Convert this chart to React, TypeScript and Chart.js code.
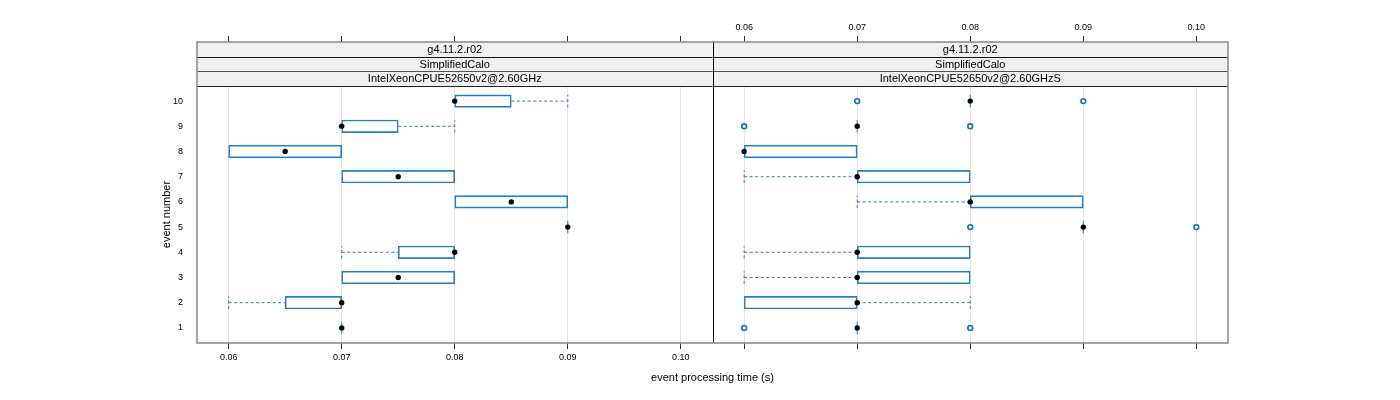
import React, { useEffect, useRef } from 'react';
import { Chart, registerables } from 'chart.js';

Chart.register(...registerables);

const FONT = '"Liberation Sans", Arial, sans-serif';

// ---- data ----
const events = [1, 2, 3, 4, 5, 6, 7, 8, 9, 10];
const xTickValues = [0.06, 0.07, 0.08, 0.09, 0.1];
const yTickValues = [1, 2, 3, 4, 5, 6, 7, 8, 9, 10];
const stripRows = ['g4.11.2.r02', 'SimplifiedCalo'];
const panelHosts = ['IntelXeonCPUE52650v2@2.60GHz', 'IntelXeonCPUE52650v2@2.60GHzS'];
const xLabel = 'event processing time (s)';
const yLabel = 'event number';

// left panel (IntelXeonCPUE52650v2@2.60GHz)
const leftLow = [0.07, 0.06, 0.07, 0.07, 0.09, 0.08, 0.07, 0.06, 0.07, 0.08];
const leftQ1 = [0.07, 0.065, 0.07, 0.075, 0.09, 0.08, 0.07, 0.06, 0.07, 0.08];
const leftMedian = [0.07, 0.07, 0.075, 0.08, 0.09, 0.085, 0.075, 0.065, 0.07, 0.08];
const leftQ3 = [0.07, 0.07, 0.08, 0.08, 0.09, 0.09, 0.08, 0.07, 0.075, 0.085];
const leftHigh = [0.07, 0.07, 0.08, 0.08, 0.09, 0.09, 0.08, 0.07, 0.08, 0.09];
const leftOutlierEvent: number[] = [];
const leftOutlierValue: number[] = [];

// right panel (IntelXeonCPUE52650v2@2.60GHzS)
const rightLow = [0.07, 0.06, 0.06, 0.06, 0.09, 0.07, 0.06, 0.06, 0.07, 0.08];
const rightQ1 = [0.07, 0.06, 0.07, 0.07, 0.09, 0.08, 0.07, 0.06, 0.07, 0.08];
const rightMedian = [0.07, 0.07, 0.07, 0.07, 0.09, 0.08, 0.07, 0.06, 0.07, 0.08];
const rightQ3 = [0.07, 0.07, 0.08, 0.08, 0.09, 0.09, 0.08, 0.07, 0.07, 0.08];
const rightHigh = [0.07, 0.08, 0.08, 0.08, 0.09, 0.09, 0.08, 0.07, 0.07, 0.08];
const rightOutlierEvent = [1, 1, 5, 5, 9, 9, 10, 10];
const rightOutlierValue = [0.06, 0.08, 0.08, 0.1, 0.06, 0.08, 0.07, 0.09];

const X_MIN = 0.0572;
const X_MAX = 0.1028;
const Y_MIN = 0.4;
const Y_MAX = 10.6;
const CAP_HALF = 0.25;

const BLUE = '#2281c2';
const OUT_BLUE = '#1075bb';

function panelDatasets(
  xAxisID: string,
  low: number[],
  q1: number[],
  med: number[],
  q3: number[],
  high: number[],
  outE: number[],
  outV: number[]
): any[] {
  const boxes: any[] = [];
  const whiskers: any[] = [];
  const flat: any[] = [];
  const gap = { x: null, y: null };
  events.forEach((e, i) => {
    if (q3[i] > q1[i]) boxes.push({ y: e, x: [q1[i], q3[i]] });
    else flat.push({ x: med[i], y: e });
    if (low[i] < q1[i]) {
      whiskers.push({ x: low[i], y: e }, { x: q1[i], y: e }, gap);
      whiskers.push({ x: low[i], y: e - CAP_HALF }, { x: low[i], y: e + CAP_HALF }, gap);
    }
    if (high[i] > q3[i]) {
      whiskers.push({ x: q3[i], y: e }, { x: high[i], y: e }, gap);
      whiskers.push({ x: high[i], y: e - CAP_HALF }, { x: high[i], y: e + CAP_HALF }, gap);
    }
  });
  const medians = events.map((e, i) => ({ x: med[i], y: e }));
  const outliers = outE.map((e, i) => ({ x: outV[i], y: e }));
  return [
    {
      type: 'scatter',
      data: medians,
      xAxisID,
      yAxisID: 'y',
      order: 0,
      pointStyle: 'circle',
      pointRadius: 2.7,
      pointBackgroundColor: '#000',
      pointBorderWidth: 0,
    },
    {
      type: 'scatter',
      data: outliers,
      xAxisID,
      yAxisID: 'y',
      order: 1,
      pointStyle: 'circle',
      pointRadius: 2.4,
      pointBackgroundColor: '#ffffff',
      pointBorderColor: OUT_BLUE,
      pointBorderWidth: 1.6,
    },
    {
      type: 'scatter',
      data: flat,
      xAxisID,
      yAxisID: 'y',
      order: 2,
      pointStyle: 'line',
      pointRotation: 90,
      pointRadius: 6.3,
      pointBorderColor: BLUE,
      pointBorderWidth: 1,
    },
    {
      type: 'line',
      data: whiskers,
      xAxisID,
      yAxisID: 'y',
      order: 3,
      borderColor: BLUE,
      borderWidth: 1,
      borderDash: [3, 2.5],
      pointRadius: 0,
      fill: false,
      spanGaps: false,
      tension: 0,
    },
    {
      type: 'bar',
      data: boxes,
      xAxisID,
      yAxisID: 'y',
      order: 4,
      indexAxis: 'y',
      grouped: false,
      barThickness: 12.6,
      backgroundColor: 'rgba(255,255,255,0)',
      borderColor: BLUE,
      borderWidth: 1,
      borderSkipped: false,
    },
  ];
}

function xScale(position: string, weight: number, showLabels: boolean, drawGrid: boolean) {
  return {
    type: 'linear',
    axis: 'x',
    position,
    weight,
    offset: false,
    stack: position === 'top' ? 'tp' : 'bt',
    stackWeight: 1,
    min: X_MIN,
    max: X_MAX,
    afterBuildTicks: (s: any) => {
      s.ticks = xTickValues.map((v) => ({ value: v }));
    },
    afterFit: (s: any) => {
      s.height = position === 'top' ? 42 : 25;
    },
    ticks: {
      display: showLabels,
      padding: 3,
      autoSkip: false,
      maxRotation: 0,
      color: '#000',
      font: { size: 9, family: FONT },
      callback: (v: any) => Number(v).toFixed(2),
    },
    grid: {
      display: true,
      offset: false,
      drawOnChartArea: drawGrid,
      drawTicks: true,
      tickLength: 6,
      color: '#e6e6e6',
      lineWidth: 1,
      tickColor: '#333',
      tickWidth: 1,
    },
    border: { display: false },
  };
}

const framePlugin = {
  id: 'latticeFrame',
  afterDraw(chart: any) {
    const { ctx, chartArea: ca } = chart;
    const mid = chart.scales.xL.right;
    const stripH = 44;
    const top = ca.top - stripH;
    const rowH = stripH / 3;
    const panels = [
      [ca.left, mid],
      [mid, ca.right],
    ];
    ctx.save();
    panels.forEach(([l, r], p) => {
      const rows = [...stripRows, panelHosts[p]];
      rows.forEach((txt, k) => {
        const y0 = top + k * rowH;
        ctx.fillStyle = '#f0f0f0';
        ctx.fillRect(l, y0, r - l, rowH);
        ctx.fillStyle = '#000';
        ctx.font = `11px ${FONT}`;
        ctx.textAlign = 'center';
        ctx.textBaseline = 'middle';
        ctx.fillText(txt, (l + r) / 2, y0 + rowH / 2 + 0.5);
      });
    });
    ctx.lineWidth = 1;
    const seps: [number, string][] = [
      [top + rowH, '#111'],
      [top + 2 * rowH, '#555'],
      [ca.top, '#222'],
    ];
    seps.forEach(([y, c]) => {
      ctx.strokeStyle = c;
      ctx.beginPath();
      ctx.moveTo(ca.left, Math.round(y) + 0.5);
      ctx.lineTo(ca.right, Math.round(y) + 0.5);
      ctx.stroke();
    });
    ctx.strokeStyle = '#000';
    ctx.beginPath();
    ctx.moveTo(Math.round(mid) + 0.5, top);
    ctx.lineTo(Math.round(mid) + 0.5, ca.bottom);
    ctx.stroke();
    ctx.strokeStyle = '#8f8f8f';
    ctx.lineWidth = 1.6;
    ctx.strokeRect(ca.left, top, ca.right - ca.left, ca.bottom - top);
    ctx.restore();
  },
};

export default function App() {
  const ref = useRef<HTMLCanvasElement | null>(null);
  useEffect(() => {
    if (!ref.current) return;
    const datasets = [
      ...panelDatasets('xL', leftLow, leftQ1, leftMedian, leftQ3, leftHigh, leftOutlierEvent, leftOutlierValue),
      ...panelDatasets('xR', rightLow, rightQ1, rightMedian, rightQ3, rightHigh, rightOutlierEvent, rightOutlierValue),
    ];
    const chart = new Chart(ref.current, {
      type: 'scatter',
      data: { datasets } as any,
      options: {
        animation: false,
        responsive: true,
        maintainAspectRatio: false,
        layout: { padding: { top: 0, left: 160, right: 172, bottom: 15.4 } },
        plugins: {
          legend: { display: false },
          tooltip: { enabled: false },
          title: {
            display: true,
            text: '',
            position: 'top',
            fullSize: false,
            weight: -10,
            padding: 0,
            font: { size: 10, lineHeight: '44px' },
          },
          subtitle: {
            display: true,
            text: xLabel,
            position: 'bottom',
            fullSize: false,
            weight: 1500,
            padding: { top: 3.4, bottom: 0 },
            color: '#000',
            font: { size: 11, family: FONT, weight: 'normal' },
          },
        },
        scales: {
          xL: xScale('bottom', 1, true, true),
          xR: xScale('bottom', 2, false, true),
          xLt: xScale('top', 2, false, false),
          xRt: xScale('top', 1, true, false),
          y: {
            type: 'linear',
            axis: 'y',
            position: 'left',
            offset: false,
            min: Y_MIN,
            max: Y_MAX,
            afterBuildTicks: (s: any) => {
              s.ticks = yTickValues.map((v) => ({ value: v }));
            },
            afterFit: (s: any) => {
              s.width = 37;
            },
            ticks: {
              padding: 6,
              autoSkip: false,
              color: '#000',
              font: { size: 9, family: FONT },
              callback: (v: any) => String(v),
            },
            grid: { display: false, offset: false },
            border: { display: false },
            title: {
              display: true,
              text: yLabel,
              color: '#000',
              padding: 0,
              font: { size: 11, family: FONT },
            },
          },
        } as any,
      } as any,
      plugins: [framePlugin],
    });
    return () => chart.destroy();
  }, []);
  return (
    <div style={{ position: 'absolute', left: 0, top: 0, width: 1400, height: 400, background: '#fff' }}>
      <canvas ref={ref} />
    </div>
  );
}
